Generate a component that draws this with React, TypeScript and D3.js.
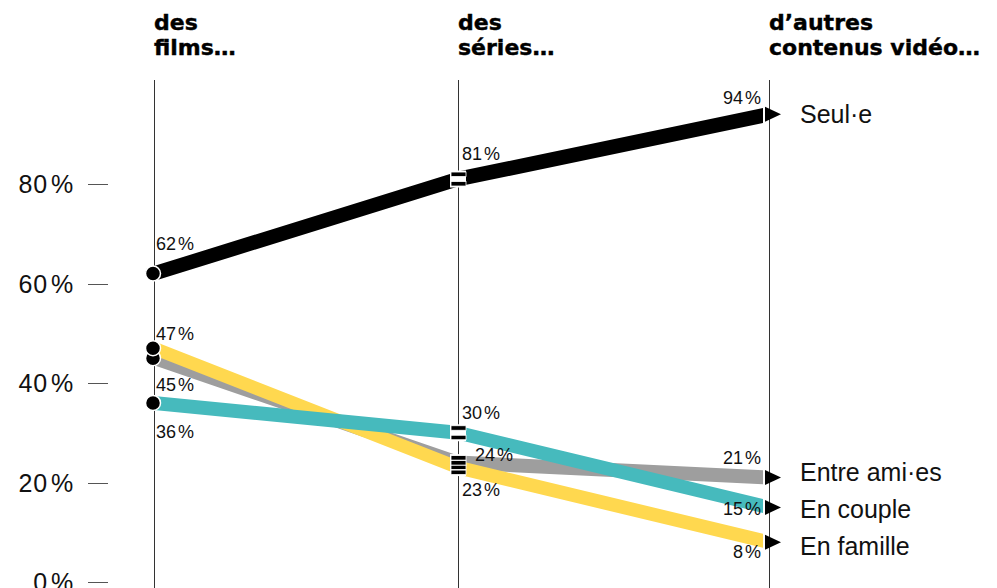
import React from 'react';
import * as d3 from 'd3';

// columns (one vertical axis each)
const columns = ['films', 'series', 'autres'];
const columnTitles = [
    ['des', 'films…'],
    ['des', 'séries…'],
    ['d’autres', 'contenus vidéo…'],
];

// series, in drawing order (bottom first)
const seriesNames = ['Entre ami·es', 'En famille', 'En couple', 'Seul·e'];
const entreAmis = [45, 24, 21];
const enFamille = [47, 23, 8];
const enCouple = [36, 30, 15];
const seul = [62, 81, 94];
const seriesValues = [entreAmis, enFamille, enCouple, seul];

const yTicks = [0, 20, 40, 60, 80];

const COLORS = ['#9e9e9e', '#ffd84f', '#46babd', '#000000'];

// where each value label sits relative to its point: [dx, dy, anchor]
const LABEL_POS: [number, number, string][][] = [
    [[2, 33, 'start'], [17, -2, 'start'], [-8, -14, 'end']],
    [[2, -8, 'start'], [4, 28, 'start'], [-8, 16, 'end']],
    [[2, 35, 'start'], [4, -14, 'start'], [-8, 8, 'end']],
    [[2, -24, 'start'], [4, -19, 'start'], [-8, -10, 'end']],
];

const W = 997;
const H = 588;
const SANS = '"Liberation Sans", Arial, Helvetica, sans-serif';

// push overlapping right-hand labels apart, keeping groups centred
function spread(targets: number[], gap: number) {
    const order = targets.map((_, i) => i).sort((a, b) => targets[a] - targets[b]);
    let groups = order.map(i => ({ ids: [i], center: targets[i] }));
    let merged = true;
    while (merged) {
        merged = false;
        for (let k = 1; k < groups.length; k++) {
            const a = groups[k - 1], b = groups[k];
            const aBottom = a.center + (a.ids.length - 1) * gap / 2;
            const bTop = b.center - (b.ids.length - 1) * gap / 2;
            if (bTop - aBottom < gap) {
                const ids = [...a.ids, ...b.ids];
                groups.splice(k - 1, 2, { ids, center: d3.mean(ids, i => targets[i])! });
                merged = true;
                break;
            }
        }
    }
    const out: number[] = new Array(targets.length);
    groups.forEach(g => g.ids.forEach((id, j) => {
        out[id] = g.center + (j - (g.ids.length - 1) / 2) * gap;
    }));
    return out;
}

const App: React.FC = () => {
    const x = d3.scaleOrdinal<string, number>().domain(columns).range([154, 458, 769]);
    const y = d3.scaleLinear().domain([0, 80]).range([582, 184]);

    const last = columns.length - 1;
    const endPad = 6;

    const band = (half: number) => d3.area<[number, number]>()
        .x(d => d[0])
        .y0(d => d[1] + half)
        .y1(d => d[1] - half);

    const seriesPoints = seriesValues.map(vals => {
        const pts: [number, number][] = vals.map((v, i) => [x(columns[i]), y(v)]);
        // trim the last segment so it stops short of the arrow
        const seg = d3.scaleLinear()
            .domain([x(columns[last - 1]), x(columns[last])])
            .range([vals[last - 1], vals[last]]);
        const xe = x(columns[last]) - endPad;
        pts[last] = [xe, y(seg(xe))];
        return pts;
    });

    const rightY = spread(seriesValues.map(v => y(v[last])), 37);

    return (
        <svg width={W} height={H} style={{ position: 'absolute', left: 0, top: 0, background: '#fff' }}>
            {/* column headers */}
            {columns.map((c, i) => (
                <text key={c} x={x(c)} y={30} fontFamily='"DejaVu Sans", sans-serif' fontWeight={700}
                    fontSize={22} fill='#000' stroke='#000' strokeWidth={0.4} letterSpacing={0}>
                    {columnTitles[i].map((t, j) => (
                        <tspan key={j} x={x(c)} dy={j === 0 ? 0 : 25}>{t}</tspan>
                    ))}
                </text>
            ))}

            {/* vertical column lines */}
            {columns.map(c => (
                <line key={c} x1={Math.round(x(c)) + 0.5} x2={Math.round(x(c)) + 0.5} y1={80} y2={H}
                    stroke='#333' strokeWidth={1} />
            ))}

            {/* y axis */}
            {yTicks.map(t => (
                <g key={t}>
                    <line x1={88} x2={108} y1={Math.round(y(t)) + 0.5} y2={Math.round(y(t)) + 0.5}
                        stroke='#555' strokeWidth={1} />
                    <text x={74} y={y(t) + 9} textAnchor='end' fontFamily={SANS} fontSize={25}
                        letterSpacing={0.8} fill='#111'>
                        {t}<tspan dx={3}>%</tspan>
                    </text>
                </g>
            ))}

            {/* bands */}
            {seriesPoints.map((pts, s) => (
                <path key={s} d={band(s === 3 ? 7.5 : 7)(pts) || ''} fill={COLORS[s]} />
            ))}

            {/* "=" break marks on middle column */}
            {seriesValues.map((vals, s) => (
                <rect key={'bg' + s} x={x(columns[1]) - 8} y={y(vals[1]) - 8.5} width={16} height={17} fill='#fff' />
            ))}
            {seriesValues.map((vals, s) => (
                <g key={'eq' + s}>
                    <rect x={x(columns[1]) - 7} y={y(vals[1]) - 7} width={15} height={4.5}
                        fill='#000' stroke='#fff' strokeWidth={0.8} />
                    <rect x={x(columns[1]) - 7} y={y(vals[1]) + 2.5} width={15} height={4.5}
                        fill='#000' stroke='#fff' strokeWidth={0.8} />
                </g>
            ))}

            {/* start dots */}
            {seriesValues.map((vals, s) => (
                <circle key={'dot' + s} cx={x(columns[0]) - 1} cy={y(vals[0])} r={7.5}
                    fill='#000' stroke='#fff' strokeWidth={1.5} />
            ))}

            {/* end arrows */}
            {seriesValues.map((vals, s) => {
                const xe = x(columns[last]);
                const ye = y(vals[last]);
                return (
                    <path key={'arr' + s}
                        d={`M${xe - 4},${ye - 7.5}L${xe + 12},${ye}L${xe - 4},${ye + 7.5}Z`}
                        fill='#000' />
                );
            })}

            {/* value labels */}
            {seriesValues.map((vals, s) => vals.map((v, i) => {
                const [dx, dy, anchor] = LABEL_POS[s][i];
                return (
                    <text key={`lab${s}-${i}`} x={x(columns[i]) + dx} y={y(v) + dy}
                        textAnchor={anchor as any} fontFamily={SANS} fontSize={18} fill='#111'>
                        {v}<tspan dx={2}>%</tspan>
                    </text>
                );
            }))}

            {/* series names on the right */}
            {seriesNames.map((name, s) => (
                <text key={name} x={x(columns[last]) + 31} y={rightY[s]} dy='0.35em'
                    fontFamily={SANS} fontSize={25} fill='#111'>
                    {name}
                </text>
            ))}
        </svg>
    );
};

export default App;
